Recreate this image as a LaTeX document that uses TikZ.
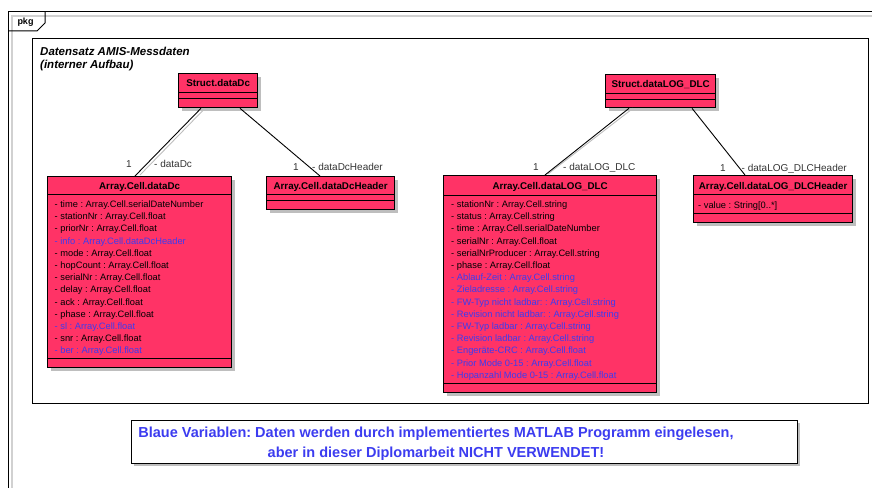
\documentclass[tikz,border=0pt]{standalone}
\usepackage{fontspec}
\setmainfont{Liberation Sans}
\usetikzlibrary{calc}
\definecolor{umlred}{RGB}{255,51,102}
\definecolor{umlblue}{RGB}{60,60,240}
\definecolor{umlshadow}{RGB}{190,190,190}
\newcommand{\bl}[1]{{\color{umlblue}#1}}
\frenchspacing

\begin{document}
\begin{tikzpicture}[x=1pt,y=-1pt,
  classbox/.style={draw, line width=1.3pt, fill=umlred, anchor=north west, inner sep=0pt,
    preaction={fill=umlshadow, transform canvas={shift={(3pt,-3pt)}}}},
  sepline/.style={line width=0.9pt},
  ctitle/.style={font=\fontsize{9.8}{11}\selectfont\bfseries, anchor=base, inner sep=0pt},
  cattr/.style={font=\fontsize{9.3}{12.2}\selectfont, align=left, anchor=north west, inner sep=0pt},
  rolelabel/.style={font=\fontsize{10}{12}\selectfont, text=black!80, inner sep=0pt},
  assoc/.style={line width=0.9pt},
  assocshade/.style={line width=0.9pt, umlshadow}]
\useasboundingbox (0,0) rectangle (872,487);
%\draw[help lines] (0,0) grid (872,487);
\draw[line width=1.8pt, black!18] (12,490) -- (12,16) -- (875,16);
\draw[line width=1pt] (8,490) -- (8,12) -- (875,12);
\draw[line width=1pt] (8,31) -- (37,31) -- (45,23) -- (45,12);
\node[font=\fontsize{9}{10}\selectfont\bfseries, inner sep=0pt] (pkg) at (25.5,22.5) {pkg};

\node[draw, line width=1.3pt, minimum width=836, minimum height=365, anchor=north west, inner sep=0pt] (dataset) at (32,38) {};
\node[font=\fontsize{11.5}{12.8}\selectfont\bfseries\itshape, align=left, anchor=north west, inner sep=0pt] (dstitle) at (40,47) {Datensatz AMIS-Messdaten\\(interner Aufbau)};

\node[classbox, minimum width=79, minimum height=34] (sdc) at (178,73) {};
\draw[sepline] ($(sdc.north west)+(0,19)$) -- ($(sdc.north east)+(0,19)$);
\draw[sepline] ($(sdc.north west)+(0,25)$) -- ($(sdc.north east)+(0,25)$);
\node[ctitle] (sdct) at ($(sdc.north)+(0,13)$) {Struct.dataDc};

\node[classbox, minimum width=110, minimum height=33] (sld) at (605,74) {};
\draw[sepline] ($(sld.north west)+(0,19)$) -- ($(sld.north east)+(0,19)$);
\draw[sepline] ($(sld.north west)+(0,25)$) -- ($(sld.north east)+(0,25)$);
\node[ctitle] (sldt) at ($(sld.north)+(0,13)$) {Struct.dataLOG\_DLC};

\node[classbox, minimum width=184, minimum height=191] (cdc) at (47,176) {};
\draw[sepline] ($(cdc.north west)+(0,18)$) -- ($(cdc.north east)+(0,18)$);
\draw[sepline] ($(cdc.north west)+(0,182)$) -- ($(cdc.north east)+(0,182)$);
\node[ctitle] (cdct) at ($(cdc.north)+(0,13.5)$) {Array.Cell.dataDc};
\node[cattr] (cdca) at ($(cdc.north west)+(7.5,24.5)$) {- time : Array.Cell.serialDateNumber\\
- stationNr : Array.Cell.float\\
- priorNr : Array.Cell.float\\
\bl{- info : Array.Cell.dataDcHeader}\\
- mode : Array.Cell.float\\
- hopCount : Array.Cell.float\\
- serialNr : Array.Cell.float\\
- delay : Array.Cell.float\\
- ack : Array.Cell.float\\
- phase : Array.Cell.float\\
\bl{- sl : Array.Cell.float}\\
- snr : Array.Cell.float\\
\bl{- ber : Array.Cell.float}};

\node[classbox, minimum width=128, minimum height=33] (dch) at (266,176) {};
\draw[sepline] ($(dch.north west)+(0,18)$) -- ($(dch.north east)+(0,18)$);
\draw[sepline] ($(dch.north west)+(0,24)$) -- ($(dch.north east)+(0,24)$);
\node[ctitle] (dcht) at ($(dch.north)+(0,13.5)$) {Array.Cell.dataDcHeader};

\node[classbox, minimum width=213, minimum height=217] (cld) at (443,175) {};
\draw[sepline] ($(cld.north west)+(0,20)$) -- ($(cld.north east)+(0,20)$);
\draw[sepline] ($(cld.north west)+(0,208)$) -- ($(cld.north east)+(0,208)$);
\node[ctitle] (cldt) at ($(cld.north)+(0,14.5)$) {Array.Cell.dataLOG\_DLC};
\node[cattr] (clda) at ($(cld.north west)+(8,25.5)$) {- stationNr : Array.Cell.string\\
- status : Array.Cell.string\\
- time : Array.Cell.serialDateNumber\\
- serialNr : Array.Cell.float\\
- serialNrProducer : Array.Cell.string\\
- phase : Array.Cell.float\\
\bl{- Ablauf-Zeit : Array.Cell.string}\\
\bl{- Zieladresse : Array.Cell.string}\\
\bl{- FW-Typ nicht ladbar: : Array.Cell.string}\\
\bl{- Revision nicht ladbar: : Array.Cell.string}\\
\bl{- FW-Typ ladbar : Array.Cell.string}\\
\bl{- Revision ladbar : Array.Cell.string}\\
\bl{- Engeräte-CRC : Array.Cell.float}\\
\bl{- Prior Mode 0-15 : Array.Cell.float}\\
\bl{- Hopanzahl Mode 0-15 : Array.Cell.float}};

\node[classbox, minimum width=159, minimum height=47] (cldh) at (693,175) {};
\draw[sepline] ($(cldh.north west)+(0,19)$) -- ($(cldh.north east)+(0,19)$);
\draw[sepline] ($(cldh.north west)+(0,38)$) -- ($(cldh.north east)+(0,38)$);
\node[ctitle] (cldht) at ($(cldh.north)+(0,14)$) {Array.Cell.dataLOG\_DLCHeader};
\node[cattr] (cldha) at ($(cldh.north west)+(5,26.5)$) {- value : String[0..*]};

\draw[assocshade] ($(sdc.south west)+(27,0)$) -- ($(cdc.north west)+(93,-1)$);
\draw[assoc] ($(sdc.south west)+(23,0)$) -- ($(cdc.north west)+(88,0)$);
\draw[assoc] ($(sdc.south west)+(62,0)$) -- ($(dch.north west)+(54,0)$);
\draw[assocshade] ($(sld.south west)+(28,0)$) -- ($(cld.north west)+(105,-1)$);
\draw[assoc] ($(sld.south west)+(24,0)$) -- ($(cld.north west)+(102,0)$);
\draw[assoc] ($(sld.south west)+(87,0)$) -- ($(cldh.north west)+(52,0)$);

\node[rolelabel, anchor=base] (m1) at (129,167.6) {1};
\node[rolelabel, anchor=base west] (r1) at (154,167.6) {- dataDc};
\node[rolelabel, anchor=base] (m2) at (296,170.6) {1};
\node[rolelabel, anchor=base west] (r2) at (312,170.6) {- dataDcHeader};
\node[rolelabel, anchor=base] (m3) at (536,170.6) {1};
\node[rolelabel, anchor=base west] (r3) at (563,170.6) {- dataLOG\_DLC};
\node[rolelabel, anchor=base] (m4) at (723,171) {1};
\node[rolelabel, anchor=base west] (r4) at (741.5,171) {- dataLOG\_DLCHeader};

\node[draw, line width=1.3pt, fill=white, minimum width=666, minimum height=43, anchor=north west, inner sep=0pt,
  preaction={fill=umlshadow, transform canvas={shift={(2pt,-2pt)}}}] (note) at (131,420) {};
\node[font=\fontsize{14.5}{20}\selectfont\bfseries, text=umlblue, align=center, inner sep=0pt] (notet) at (436,444) {Blaue Variablen: Daten werden durch implementiertes MATLAB Programm eingelesen,\\aber in dieser Diplomarbeit NICHT VERWENDET!};
\end{tikzpicture}
\end{document}
